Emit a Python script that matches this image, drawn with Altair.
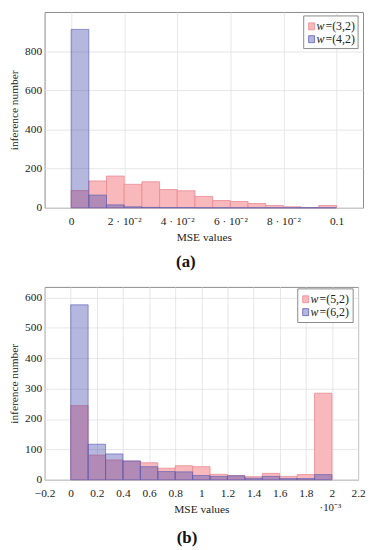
import altair as alt
import pandas as pd
import numpy as np

# ---------------- data ----------------
# panel (a): 15 equal bins on [0, 0.1]
a_bin_lo, a_bin_hi, a_nbins = 0.0, 0.1, 15
a_red = [88, 137, 162, 120, 133, 93, 87, 58, 37, 32, 22, 12, 5, 1, 12]     # w=(3,2)
a_blue = [911, 65, 15, 5, 2, 1, 1, 0, 0, 0, 0, 0, 0, 0, 0]                # w=(4,2)
a_names = ["(3,2)", "(4,2)"]
a_xticks = [0, 0.02, 0.04, 0.06, 0.08, 0.1]
a_yticks = [0, 200, 400, 600, 800]

# panel (b): 15 equal bins on [0, 2e-3]
b_bin_lo, b_bin_hi, b_nbins = 0.0, 0.002, 15
b_red = [244, 81, 65, 61, 56, 38, 46, 43, 18, 14, 10, 21, 11, 17, 285]    # w=(5,2)
b_blue = [576, 117, 85, 62, 43, 27, 26, 14, 11, 13, 5, 11, 4, 4, 17]     # w=(6,2)
b_names = ["(5,2)", "(6,2)"]
b_xticks = [-0.0002, 0, 0.0002, 0.0004, 0.0006, 0.0008, 0.001, 0.0012,
            0.0014, 0.0016, 0.0018, 0.002, 0.0022]
b_yticks = [0, 100, 200, 300, 400, 500, 600]

FONT = "Liberation Serif"
RED_FILL, RED_STROKE = "#f8b8bc", "#ea8a92"
BLUE_FILL, BLUE_STROKE = "#3c41aa", "#5a5fb8"


def hist_df(lo, hi, n, counts):
    edges = np.linspace(lo, hi, n + 1)
    return pd.DataFrame({"lo": edges[:-1], "hi": edges[1:], "count": counts, "base": 0})


def legend_layers(names, box):
    x0, x1, y0, y1 = box
    one = pd.DataFrame({"k": [0]})
    layers = [
        alt.Chart(one).mark_rect(fill="white", stroke="#8a8a8a", strokeWidth=1).encode(
            x=alt.value(x0), x2=alt.value(x1), y=alt.value(y0), y2=alt.value(y1))
    ]
    rows = [(names[0], RED_FILL, RED_STROKE, 1.0), (names[1], BLUE_FILL, BLUE_STROKE, 0.38)]
    for i, (nm, fill, stroke, op) in enumerate(rows):
        cy = y0 + 10 + i * 13
        layers.append(alt.Chart(one).mark_rect(fill=fill, fillOpacity=op, stroke=stroke,
                                               strokeWidth=0.8).encode(
            x=alt.value(x0 + 5), x2=alt.value(x0 + 11), y=alt.value(cy - 3), y2=alt.value(cy + 4)))
        layers.append(alt.Chart(one).mark_text(text="w", font=FONT, fontStyle="italic",
                                               fontSize=12, align="left", baseline="middle",
                                               color="#222").encode(
            x=alt.value(x0 + 13), y=alt.value(cy)))
        layers.append(alt.Chart(one).mark_text(text="=" + nm, font=FONT, fontSize=12,
                                               align="left", baseline="middle",
                                               color="#222").encode(
            x=alt.value(x0 + 22), y=alt.value(cy)))
    return layers


def panel(df_red, df_blue, names, xdom, xticks, xlabel_expr, ydom, yticks, w, h,
          caption, box, cap_offset, extra=None):
    xs = alt.Scale(domain=xdom, nice=False, zero=False)
    ys = alt.Scale(domain=ydom, nice=False)
    xax = alt.Axis(values=xticks, labelExpr=xlabel_expr, title="MSE values", grid=True,
                   labelPadding=8, titlePadding=5, labelFlush=False, labelOverlap=False,
                   tickSize=0)
    yax = alt.Axis(values=yticks, title="inference number", grid=True, labelPadding=3,
                   titlePadding=5, labelFlush=False, labelOverlap=False, tickSize=0)
    red = alt.Chart(df_red).mark_rect(fill=RED_FILL, stroke=RED_STROKE, strokeWidth=0.8).encode(
        x=alt.X("lo:Q", scale=xs, axis=xax), x2="hi:Q",
        y=alt.Y("count:Q", scale=ys, axis=yax), y2="base:Q")
    blue = alt.Chart(df_blue).mark_rect(fill=BLUE_FILL, fillOpacity=0.38, stroke=BLUE_STROKE,
                                        strokeOpacity=0.8, strokeWidth=0.8).encode(
        x=alt.X("lo:Q", scale=xs, axis=xax), x2="hi:Q",
        y=alt.Y("count:Q", scale=ys, axis=yax), y2="base:Q")
    layers = [red, blue] + legend_layers(names, box)
    if extra is not None:
        layers.append(extra)
    return alt.layer(*layers).properties(
        width=w, height=h,
        title=alt.TitleParams(caption, orient="bottom", anchor="middle", frame="bounds",
                              font=FONT, fontSize=17, fontWeight="bold", color="#111",
                              offset=cap_offset))


a_expr = ("datum.value == 0 ? '0' : abs(datum.value - 0.1) < 1e-9 ? '0.1' : "
          "format(datum.value * 100, 'd') + ' · 10⁻²'")
b_expr = "format(datum.value * 1000, '~g')"

WA, HA = 322, 198
WB, HB = 317, 195

pa = panel(hist_df(a_bin_lo, a_bin_hi, a_nbins, a_red),
           hist_df(a_bin_lo, a_bin_hi, a_nbins, a_blue),
           a_names, [-0.01, 0.11], a_xticks, a_expr, [0, 1000], a_yticks, WA, HA,
           "(a)", (262, 317, 4, 37), 11)

mult = alt.Chart(pd.DataFrame({"k": [0]})).mark_text(
    text="·10⁻³", font=FONT, fontSize=11, align="center", baseline="middle",
    color="#222").encode(x=alt.value(WB - 28), y=alt.value(HB + 29))

pb = panel(hist_df(b_bin_lo, b_bin_hi, b_nbins, b_red),
           hist_df(b_bin_lo, b_bin_hi, b_nbins, b_blue),
           b_names, [-0.0002, 0.0022], b_xticks, b_expr, [0, 635], b_yticks, WB, HB,
           "(b)", (256, 312, 2, 36), 15, extra=mult)

chart = alt.vconcat(pa, pb, spacing=15).properties(
    padding={"left": 0, "top": 0, "right": 0, "bottom": 0}
).configure_view(stroke="#8c8c8c", strokeWidth=1).configure_axis(
    labelFont=FONT, titleFont=FONT, labelFontSize=11.5, titleFontSize=11.5,
    titleFontWeight="normal", labelColor="#222", titleColor="#222",
    gridColor="#e0e0e0", gridWidth=0.8, domain=False, ticks=False
)

chart.save("out.html", embed_options={"renderer": "svg", "actions": False})
